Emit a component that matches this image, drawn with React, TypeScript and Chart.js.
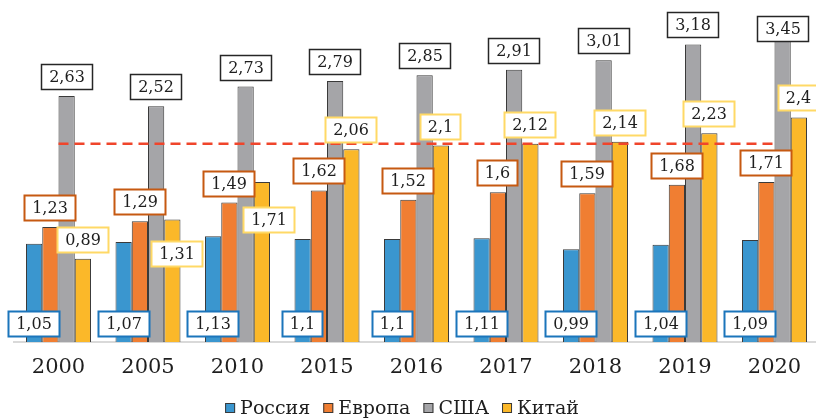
import React, { useEffect, useRef } from 'react';
import { Chart, registerables } from 'chart.js';

Chart.register(...registerables);

const years = ['2000', '2005', '2010', '2015', '2016', '2017', '2018', '2019', '2020'];
const russia = [1.05, 1.07, 1.13, 1.1, 1.1, 1.11, 0.99, 1.04, 1.09];
const europe = [1.23, 1.29, 1.49, 1.62, 1.52, 1.6, 1.59, 1.68, 1.71];
const usa = [2.63, 2.52, 2.73, 2.79, 2.85, 2.91, 3.01, 3.18, 3.45];
const china = [0.89, 1.31, 1.71, 2.06, 2.1, 2.12, 2.14, 2.23, 2.4];
const seriesNames = ['Россия', 'Европа', 'США', 'Китай'];
const referenceLevel = 2.12;

const FONT = "'DejaVu Serif', 'Liberation Serif', serif";
const fillColors = ['#3a96cf', '#f07e32', '#a5a5a8', '#fbb829'];
const labelBorders = ['#1b75bb', '#c65911', '#262626', '#ffd966'];
const labelBorderWidths = [2, 2, 1.5, 2];
// label placement tweaks: "dataset-index" -> [dx, dy] in px
const labelNudges: Record<string, [number, number]> = {
  '3-1': [5, 54],
  '3-2': [7, 57],
  '2-8': [0, 29],
};

const overlayPlugin = {
  id: 'overlay',
  afterDatasetsDraw(chart: any) {
    const ctx = chart.ctx as CanvasRenderingContext2D;
    const xs = chart.scales.x;
    const ys = chart.scales.y;
    // dashed reference line
    const yL = ys.getPixelForValue(referenceLevel);
    ctx.save();
    ctx.setLineDash([10, 6]);
    ctx.strokeStyle = '#f0452b';
    ctx.lineWidth = 2.5;
    ctx.beginPath();
    ctx.moveTo(xs.getPixelForValue(0), yL);
    ctx.lineTo(xs.getPixelForValue(years.length - 1), yL);
    ctx.stroke();
    ctx.restore();

    // value labels
    ctx.save();
    ctx.font = `16px ${FONT}`;
    ctx.textAlign = 'center';
    ctx.textBaseline = 'middle';
    chart.data.datasets.forEach((ds: any, di: number) => {
      const meta = chart.getDatasetMeta(di);
      meta.data.forEach((el: any, i: number) => {
        const v = ds.data[i] as number;
        const text = String(v).replace('.', ',');
        const w = Math.round(ctx.measureText(text).width + 16);
        const h = 26;
        let cx = el.x;
        let top = di === 0 ? el.base - 5 - h : el.y - 6 - h;
        const n = labelNudges[`${di}-${i}`];
        if (n) {
          cx += n[0];
          top += n[1];
        }
        const left = Math.round(cx - w / 2);
        top = Math.round(top);
        ctx.fillStyle = '#ffffff';
        ctx.fillRect(left, top, w, h);
        ctx.lineWidth = labelBorderWidths[di];
        ctx.strokeStyle = labelBorders[di];
        ctx.strokeRect(left + 0.5, top + 0.5, w - 1, h - 1);
        ctx.fillStyle = '#1e1e1e';
        ctx.fillText(text, left + w / 2, top + h / 2 + 1);
      });
    });
    ctx.restore();
  },
  afterDraw(chart: any) {
    const ctx = chart.ctx as CanvasRenderingContext2D;
    ctx.save();
    ctx.font = `19px ${FONT}`;
    ctx.textBaseline = 'middle';
    ctx.textAlign = 'left';
    const box = 10;
    const gapBox = 5;
    const gapItem = 13;
    const widths = seriesNames.map((s) => box + gapBox + ctx.measureText(s).width);
    const total = widths.reduce((a, b) => a + b, 0) + gapItem * (widths.length - 1);
    let x = 402 - total / 2;
    const cy = 408;
    chart.data.datasets.forEach((ds: any, i: number) => {
      ctx.fillStyle = ds.backgroundColor;
      ctx.fillRect(x, cy - box / 2, box, box);
      ctx.strokeStyle = '#3a3a3a';
      ctx.lineWidth = 1;
      ctx.strokeRect(x + 0.5, cy - box / 2 + 0.5, box - 1, box - 1);
      ctx.fillStyle = '#1e1e1e';
      ctx.fillText(ds.label, x + box + gapBox, cy + 1);
      x += widths[i] + gapItem;
    });
    ctx.restore();
  },
};

export default function App() {
  const ref = useRef<HTMLCanvasElement | null>(null);
  useEffect(() => {
    if (!ref.current) return;
    const series = [russia, europe, usa, china];
    const chart = new Chart(ref.current, {
      type: 'bar',
      data: {
        labels: years,
        datasets: series.map((d, i) => ({
          label: seriesNames[i],
          data: d,
          backgroundColor: fillColors[i],
          borderColor: '#3a3a3a',
          borderWidth: 1,
          categoryPercentage: 0.726,
          barPercentage: 1,
        })),
      },
      options: {
        responsive: false,
        animation: false,
        devicePixelRatio: 1,
        layout: { padding: { left: 13.75, right: 4.75, top: 0, bottom: 0 } },
        plugins: { legend: { display: false }, tooltip: { enabled: false } },
        scales: {
          y: { display: false, min: 0, max: 3.655 },
          x: {
            grid: { display: false, drawTicks: false },
            border: { display: true, color: '#d9d9d9', width: 2 },
            ticks: { font: { family: FONT, size: 21 }, color: '#1e1e1e', padding: 13 },
            afterFit: (scale: any) => {
              scale.height = 76;
            },
          },
        },
      },
      plugins: [overlayPlugin],
    });
    return () => chart.destroy();
  }, []);
  return (
    <div style={{ position: 'absolute', left: 0, top: 0, width: 816, height: 418, overflow: 'hidden', background: '#fff' }}>
      <canvas ref={ref} width={824} height={418} style={{ display: 'block', width: 824, height: 418 }} />
    </div>
  );
}
